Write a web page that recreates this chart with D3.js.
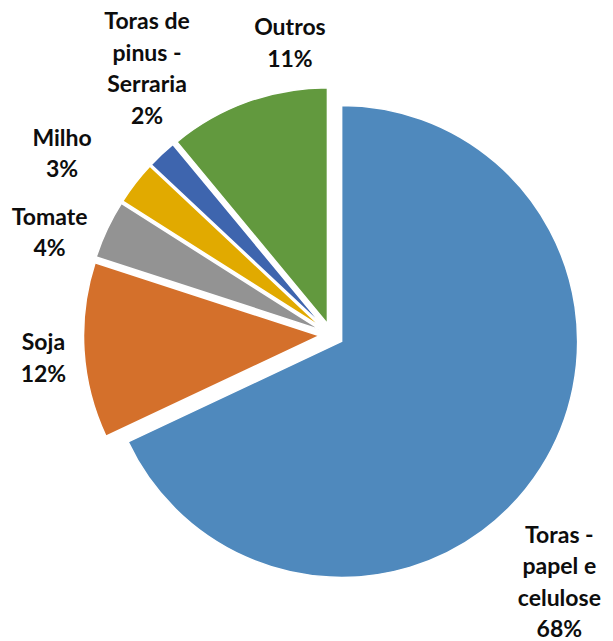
<!DOCTYPE html>
<html>
<head>
<meta charset="utf-8">
<script src="https://cdn.jsdelivr.net/npm/d3@7"></script>
<style>
  html, body { margin: 0; padding: 0; background: #fff; }
  svg { display: block; }
</style>
</head>
<body>
<svg id="chart" width="613" height="641"></svg>
<script>
// ---- data ----
const categories = ["Toras - papel e celulose", "Soja", "Tomate", "Milho", "Toras de pinus - Serraria", "Outros"];
const values = [68, 12, 4, 3, 2, 11];
const labelLines = [
  ["Toras -", "papel e", "celulose", "68%"],
  ["Soja", "12%"],
  ["Tomate", "4%"],
  ["Milho", "3%"],
  ["Toras de", "pinus -", "Serraria", "2%"],
  ["Outros", "11%"]
];
const colors = ["#4F89BD", "#D4702B", "#939393", "#E1AA00", "#3E65AE", "#62993E"];

// ---- layout ----
const W = 613, H = 641;
const cx = 331.5, cy = 335, R = 236, explode = 12;
// label placement: polar (degrees clockwise from top, distance from centre)
const labelPolar = [
  [137.3, 336], [265.4, 289], [290, 300], [304, 325], [325.3, 324], [351.9, 295]
];
const lineH = 31.5;

const svg = d3.select("#chart");
const g = svg.append("g").attr("transform", `translate(${cx},${cy})`);

const pie = d3.pie().sort(null).startAngle(0).endAngle(2 * Math.PI).value(d => d.v);
const arcs = pie(categories.map((c, i) => ({ c, v: values[i], i })));
const arc = d3.arc().innerRadius(0).outerRadius(R);

g.selectAll("path.slice")
  .data(arcs)
  .join("path")
  .attr("class", "slice")
  .attr("transform", d => {
    const a = (d.startAngle + d.endAngle) / 2;
    return `translate(${explode * Math.sin(a)},${-explode * Math.cos(a)})`;
  })
  .attr("d", arc)
  .attr("fill", d => colors[d.data.i])
  .attr("stroke", "#fff")
  .attr("stroke-width", 1.5)
  .attr("stroke-linejoin", "round");

g.selectAll("text.lbl")
  .data(arcs)
  .join("text")
  .attr("class", "lbl")
  .attr("text-anchor", "middle")
  .attr("font-family", "Lato, 'Open Sans', sans-serif")
  .attr("font-weight", "bold")
  .attr("font-size", 23)
  .attr("fill", "#0d0d0d")
  .each(function(d) {
    const i = d.data.i;
    const [deg, dist] = labelPolar[i];
    const a = deg * Math.PI / 180;
    const x = dist * Math.sin(a), y = -dist * Math.cos(a);
    const lines = labelLines[i];
    const t = d3.select(this);
    const y0 = y - (lines.length - 1) * lineH / 2;
    lines.forEach((ln, k) => {
      t.append("tspan")
        .attr("x", x)
        .attr("y", y0 + k * lineH)
        .attr("dy", "0.35em")
        .text(ln);
    });
  });
</script>
</body>
</html>
